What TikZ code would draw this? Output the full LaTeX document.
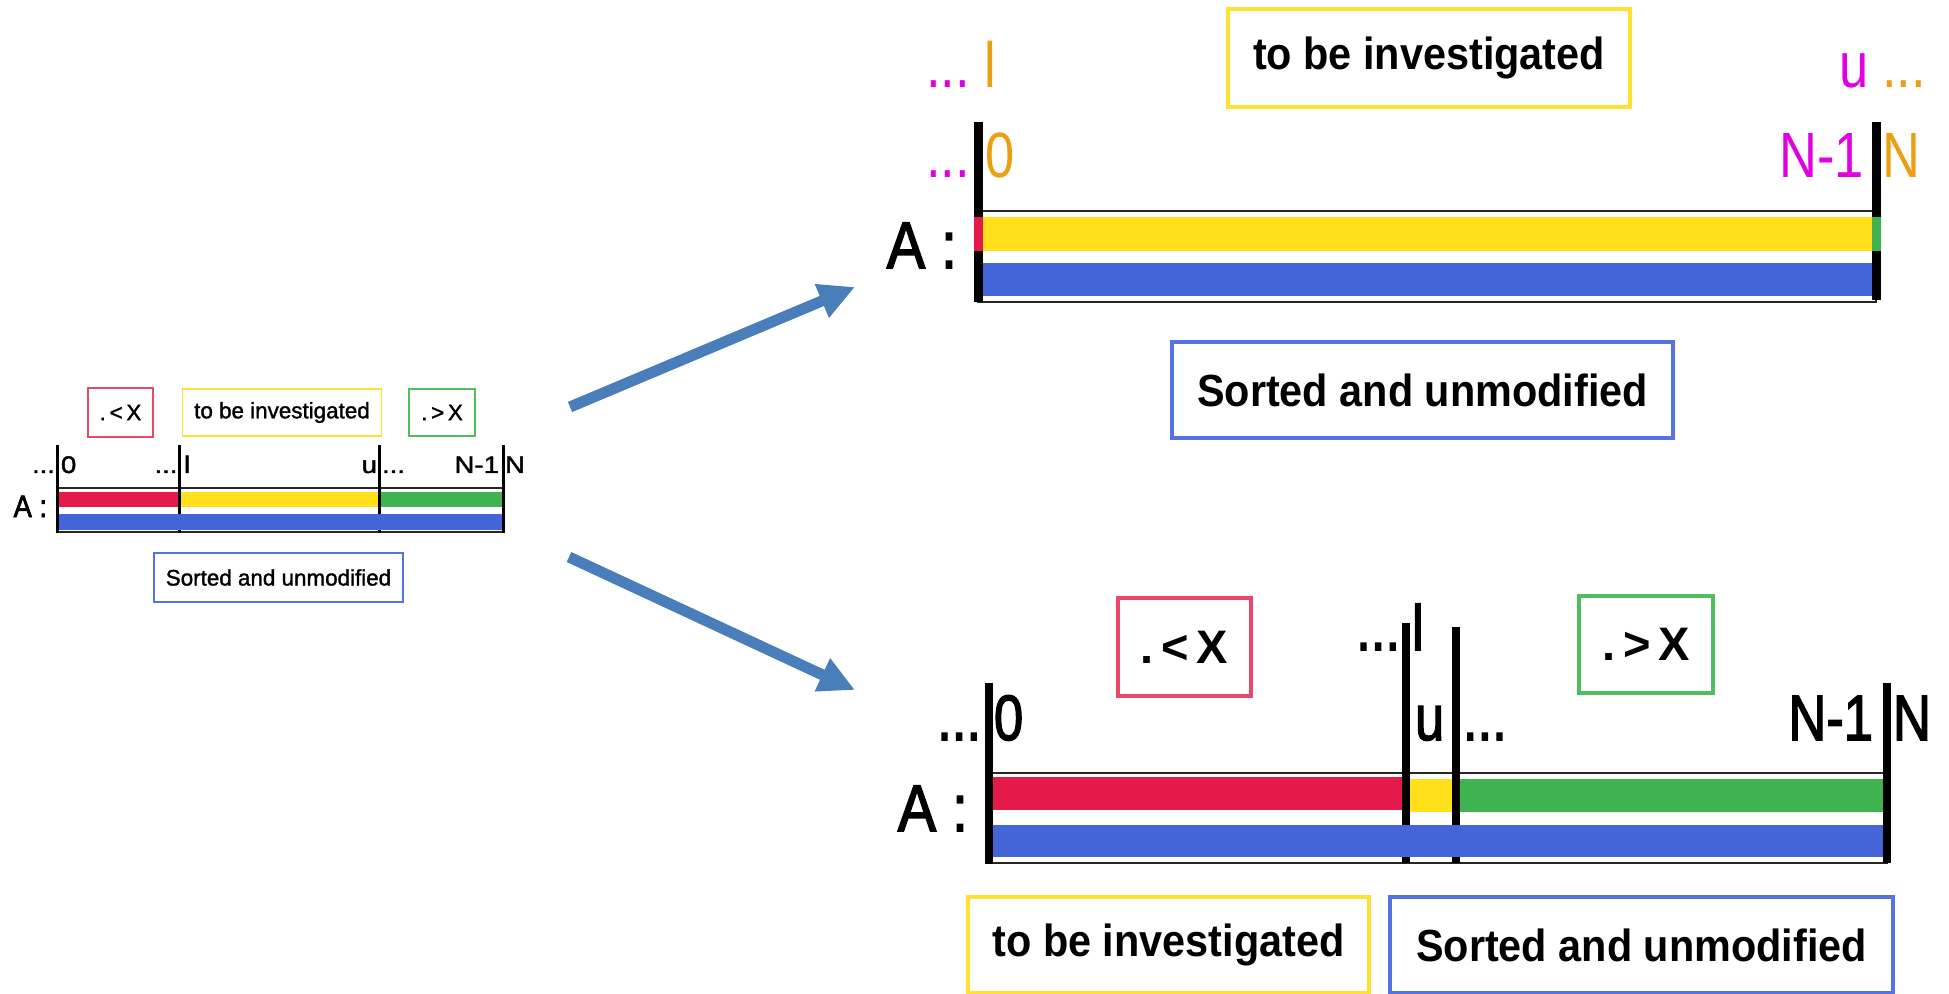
\documentclass[tikz,border=0pt]{standalone}
\usepackage{fontspec}
\setmainfont{Liberation Sans}
\newfontfamily\medfont{Liberation Sans}[FakeBold=2.5]
\newfontfamily\smedfont{Liberation Sans}[FakeBold=1.5]
\usepackage{graphicx}
\usetikzlibrary{arrows.meta}
\definecolor{cred}{RGB}{227,26,74}
\definecolor{cyel}{RGB}{255,224,26}
\definecolor{cgrn}{RGB}{62,179,80}
\definecolor{cblu}{RGB}{67,101,216}
\definecolor{bred}{RGB}{232,72,106}
\definecolor{byel}{RGB}{255,225,50}
\definecolor{bgrn}{RGB}{80,190,95}
\definecolor{bblu}{RGB}{85,115,225}
\definecolor{cmag}{RGB}{225,0,225}
\definecolor{corg}{RGB}{235,160,20}
\definecolor{carrow}{RGB}{74,126,187}
\newcommand{\fsz}[1]{\fontsize{#1}{#1}\selectfont}
\newcommand{\nar}[1]{\scalebox{0.92}[1]{#1}}
\begin{document}
\begin{tikzpicture}[x=0.5pt,y=-0.5pt,
  lbl/.style={inner sep=0pt,outer sep=0pt},
  sbox/.style={draw,line width=0.8pt,inner sep=0pt,font=\smedfont\fsz{11.2pt}},
  bbox/.style={draw,line width=2pt,inner sep=0pt,font=\bfseries\fsz{22.5pt}},
  frame/.style={draw=black!85,line width=0.8pt,fill=white},
  arr/.style={draw=carrow,line width=5.5pt,-{Triangle[length=18pt,width=17pt]}},
  slab/.style={lbl,font=\smedfont\fsz{12pt}},
  blab/.style={lbl,font=\fsz{32pt}},
  blabm/.style={lbl,font=\medfont\fsz{32pt}}]
\useasboundingbox (0,0) rectangle (1949,994);

% ---------- small diagram ----------
\node[sbox,draw=bred,minimum width=32.7pt,minimum height=24.5pt] (sLess) at (120.5,412.5) {.\,<\,X};
\node[sbox,draw=byel,minimum width=99.5pt,minimum height=23.5pt] (sInv) at (282,412.5) {to be investigated};
\node[sbox,draw=bgrn,minimum width=33pt,minimum height=23.5pt] (sMore) at (442,412.5) {.\,>\,X};
\node[sbox,draw=bblu,minimum width=124.5pt,minimum height=24.5pt] (sSort) at (278.5,577.5) {Sorted and unmodified};

\draw[frame] (57.5,488) rectangle (503.4,532);
\fill[cred] (57.5,492) rectangle (179.8,507);
\fill[cyel] (179.8,492) rectangle (379.8,507);
\fill[cgrn] (379.8,492) rectangle (503.4,507);
\fill (178.3,445) rectangle (181.3,533);
\fill (378.3,445) rectangle (381.3,533);
\fill[cblu] (57.5,514) rectangle (503.4,530);
\fill (56,445) rectangle (59,533);
\fill (501.9,445) rectangle (504.9,533);

\node[slab,anchor=base east] (sd0) at (55,473) {\scalebox{1.15}[1]{...}};
\node[slab,anchor=base west] (s0) at (61,473) {\scalebox{1.15}[1]{0}};
\node[slab,anchor=base east] (sdl) at (177.5,473) {\scalebox{1.15}[1]{...}};
\node[slab,anchor=base west] (sl) at (184,473) {\scalebox{1.15}[1]{l}};
\node[slab,anchor=base east] (su) at (377,473) {\scalebox{1.15}[1]{u}};
\node[slab,anchor=base west] (sdu) at (382,473) {\scalebox{1.15}[1]{...}};
\node[slab,anchor=base east] (sn1) at (499,473) {\scalebox{1.15}[1]{N-1}};
\node[slab,anchor=base west] (sn) at (505,473) {\scalebox{1.15}[1]{N}};
\node[lbl,anchor=base east,font=\medfont\fsz{15.5pt}] (sA) at (47,517) {\scalebox{0.88}[1]{A :}};

% ---------- arrows ----------
\coordinate (a1s) at (570,407);
\coordinate (a1e) at (855,287);
\coordinate (a2s) at (569,557);
\coordinate (a2e) at (855,690);
\draw[arr] (a1s) -- (a1e);
\draw[arr] (a2s) -- (a2e);

% ---------- top right diagram ----------
\node[bbox,draw=byel,minimum width=201pt,minimum height=49pt] (tInv) at (1429,58) {\nar{to be investigated}};
\node[bbox,draw=bblu,minimum width=250.5pt,minimum height=48pt] (tSort) at (1422.5,390) {\nar{Sorted and unmodified}};

\draw[frame] (978,211) rectangle (1876,302);
\fill[cyel] (978,217) rectangle (1876,251);
\fill[cblu] (978,263) rectangle (1876,296);
\fill (973.5,122) rectangle (982.5,302);
\fill (1871.5,122) rectangle (1880.5,300);
\fill[cred] (973.5,217) rectangle (982.5,251);
\fill[cgrn] (1871.5,217) rectangle (1880.5,251);

\node[blab,anchor=base east,text=cmag] (tdl) at (970,88) {\scalebox{0.82}[1]{...}};
\node[blab,anchor=base west,text=corg] (tl) at (984,88) {\scalebox{0.82}[1]{l}};
\node[blab,anchor=base east,text=cmag] (tu) at (1869,88) {\scalebox{0.82}[1]{u}};
\node[blab,anchor=base west,text=corg] (tdu) at (1882,88) {\scalebox{0.82}[1]{...}};
\node[blab,anchor=base east,text=cmag] (td0) at (970,178) {\scalebox{0.82}[1]{...}};
\node[blab,anchor=base west,text=corg] (t0) at (985,178) {\scalebox{0.82}[1]{0}};
\node[blab,anchor=base east,text=cmag] (tn1) at (1864,178) {\scalebox{0.82}[1]{N-1}};
\node[blab,anchor=base west,text=corg] (tn) at (1882,178) {\scalebox{0.82}[1]{N}};
\node[lbl,anchor=base east,font=\medfont\fsz{33pt}] (tA) at (957,268) {\scalebox{0.87}[1]{A :}};

% ---------- bottom right diagram ----------
\node[bbox,draw=bred,minimum width=66.5pt,minimum height=49pt,font=\bfseries\fsz{23.5pt}] (bLess) at (1184.5,647) {.\,<\,X};
\node[bbox,draw=bgrn,minimum width=67pt,minimum height=48.5pt,font=\bfseries\fsz{23.5pt}] (bMore) at (1646,644.5) {.\,>\,X};
\node[bbox,draw=byel,minimum width=200.5pt,minimum height=48pt] (bInv) at (1168.5,945) {\nar{to be investigated}};
\node[bbox,draw=bblu,minimum width=251.5pt,minimum height=48pt] (bSort) at (1641.5,945) {\nar{Sorted and unmodified}};

\draw[frame] (989,773) rectangle (1887,863);
\fill[cred] (989,777) rectangle (1406,810);
\fill[cyel] (1406,779) rectangle (1456,812);
\fill[cgrn] (1456,779) rectangle (1887,812);
\fill (1402,623) rectangle (1410,863);
\fill (1452,627) rectangle (1460,863);
\fill[cblu] (989,825) rectangle (1887,857);
\fill (985,683) rectangle (993,864);
\fill (1883,683) rectangle (1891,863);

\node[blabm,anchor=base east] (bd0) at (981,740) {\scalebox{0.82}[1]{...}};
\node[blabm,anchor=base west] (b0) at (994,740) {\scalebox{0.82}[1]{0}};
\node[blabm,anchor=base east] (bdl) at (1400,650) {\scalebox{0.82}[1]{...}};
\node[blabm,anchor=base west] (bl) at (1412,650) {\scalebox{0.82}[1]{l}};
\node[blabm,anchor=base west] (bu) at (1415,740) {\scalebox{0.82}[1]{u}};
\node[blabm,anchor=base west] (bdu) at (1463,740) {\scalebox{0.82}[1]{...}};
\node[blabm,anchor=base east] (bn1) at (1873,740) {\scalebox{0.82}[1]{N-1}};
\node[blabm,anchor=base west] (bn) at (1893,740) {\scalebox{0.82}[1]{N}};
\node[lbl,anchor=base east,font=\medfont\fsz{33pt}] (bA) at (968,831) {\scalebox{0.87}[1]{A :}};
\end{tikzpicture}
\end{document}
